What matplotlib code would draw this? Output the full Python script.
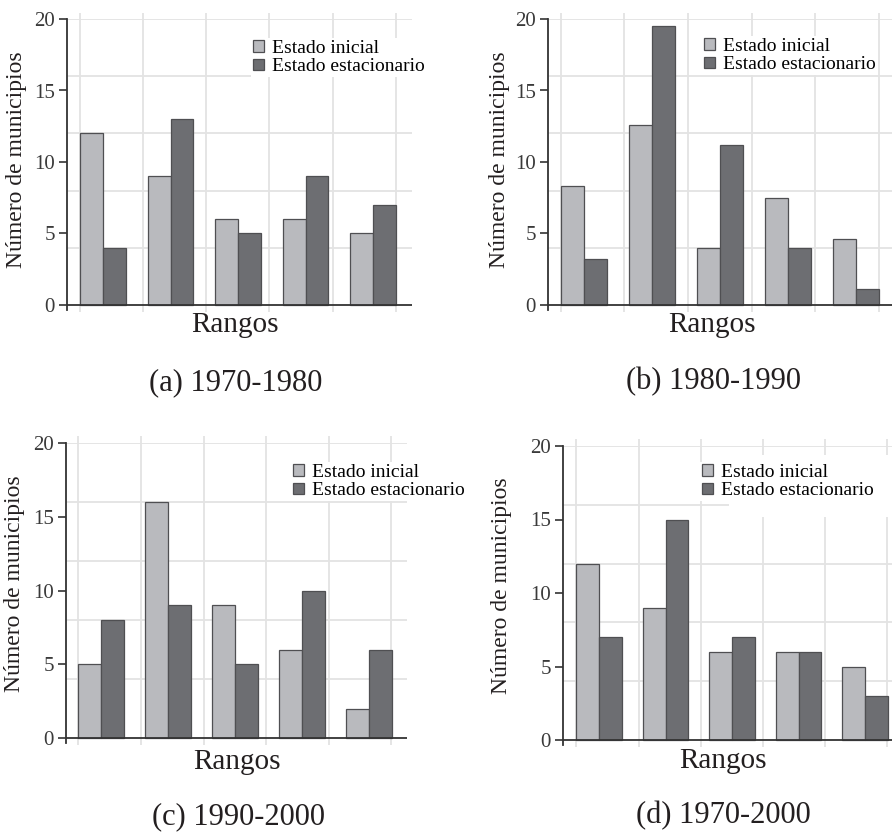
import matplotlib.pyplot as plt
from matplotlib.patches import Rectangle
import numpy as np

W, H = 892, 838
plt.rcParams['font.family'] = ['Liberation Serif', 'DejaVu Serif']

# data: five ranges per period, initial vs stationary state
rangos = np.arange(5)
inicial_a = [12, 9, 6, 6, 5]
estac_a = [4, 13, 5, 9, 7]
inicial_b = [8.3, 12.6, 4.0, 7.5, 4.6]
estac_b = [3.2, 19.5, 11.2, 4.0, 1.1]
inicial_c = [5, 16, 9, 6, 2]
estac_c = [8, 9, 5, 10, 6]
inicial_d = [12, 9, 6, 6, 5]
estac_d = [7, 15, 7, 6, 3]
captions = ['(a) 1970-1980', '(b) 1980-1990', '(c) 1990-2000', '(d) 1970-2000']
yticks = [0, 5, 10, 15, 20]
ygrid = [4, 8, 12, 16, 20]
xgrid = [-0.34, 0.595, 1.53, 2.465, 3.4, 4.335]

light = '#b9babe'
dark = '#6d6e72'
edge = '#4f4f52'
gridc = '#e3e3e3'
axc = '#333333'
txt = '#231f20'

# layout in pixels: spine x, x of first group, px per group, y of 0, y of 20, right edge
panels = [
    dict(ini=inicial_a, est=estac_a, sx=67, x0=103, dx=67.5, y0=305, y20=19, right=412,
         leg=(251, 38), rg=(235, 325), cap=(236, 383), yl=(17, 160)),
    dict(ini=inicial_b, est=estac_b, sx=548, x0=584, dx=68, y0=305, y20=19, right=892,
         leg=(702, 36), rg=(712, 325), cap=(713, 382), yl=(499, 160)),
    dict(ini=inicial_c, est=estac_c, sx=66, x0=101, dx=67, y0=738, y20=443, right=407,
         leg=(291, 462), rg=(237, 762), cap=(239, 817), yl=(15, 584)),
    dict(ini=inicial_d, est=estac_d, sx=563, x0=599, dx=66.5, y0=740, y20=446, right=892,
         leg=(700, 462), rg=(723, 761), cap=(723, 816), yl=(501, 586)),
]

fig = plt.figure(figsize=(W / 100, H / 100), dpi=100)
w = 0.34
ybot = -0.35

for i, p in enumerate(panels):
    unit = (p['y0'] - p['y20']) / 20
    bot_px = p['y0'] - ybot * unit
    ax = fig.add_axes([p['sx'] / W, 1 - bot_px / H,
                       (p['right'] - p['sx']) / W, (bot_px - p['y20']) / H])
    ax.set_xlim((p['sx'] - p['x0']) / p['dx'], (p['right'] - p['x0']) / p['dx'])
    ax.set_ylim(ybot, 20)

    # light grid, vertical lines overshoot the plot a bit
    ax.hlines(ygrid, *ax.get_xlim(), color=gridc, lw=1.3, zorder=0)
    ax.vlines(xgrid, -0.5, 20.45, color=gridc, lw=1.3, zorder=0, clip_on=False)
    if i == 3:
        ax.add_patch(Rectangle((1.95, 15.2), 3, 4.2, facecolor='white',
                               edgecolor='none', zorder=0.5))

    b1 = ax.bar(rangos - w / 2, p['ini'], w, color=light, edgecolor=edge,
                linewidth=0.9, zorder=2, label='Estado inicial')
    b2 = ax.bar(rangos + w / 2, p['est'], w, color=dark, edgecolor=edge,
                linewidth=0.9, zorder=2, label='Estado estacionario')

    ax.axhline(0, color=axc, lw=1.3, zorder=3)
    for s in ['top', 'right', 'bottom']:
        ax.spines[s].set_visible(False)
    ax.spines['left'].set_color(axc)
    ax.spines['left'].set_linewidth(1.3)
    ax.set_xticks([])
    ax.set_yticks(yticks)
    ax.tick_params(axis='y', direction='out', length=5.8, width=1.2, color=axc,
                   labelsize=15, labelcolor='#3a3a3a', pad=3)
    ax.set_facecolor('none')

    lx, ly = p['leg']
    ax.legend(handles=[b1, b2], loc='upper left',
              bbox_to_anchor=(lx / W, 1 - ly / H), bbox_transform=fig.transFigure,
              fontsize=14, frameon=True, facecolor='white', edgecolor='none',
              framealpha=1, fancybox=False, borderpad=0.1, labelspacing=0.06,
              handlelength=0.58, handleheight=0.52, handletextpad=0.4,
              borderaxespad=0)

    fig.text(p['rg'][0] / W, 1 - p['rg'][1] / H, 'Rangos', fontsize=21,
             ha='center', va='center', color=txt)
    fig.text(p['cap'][0] / W, 1 - p['cap'][1] / H, captions[i], fontsize=22,
             ha='center', va='center', color=txt)
    fig.text(p['yl'][0] / W, 1 - p['yl'][1] / H, 'Número de municipios', fontsize=17,
             rotation=90, ha='center', va='center', color=txt)

fig.savefig('out.png', dpi=100)
